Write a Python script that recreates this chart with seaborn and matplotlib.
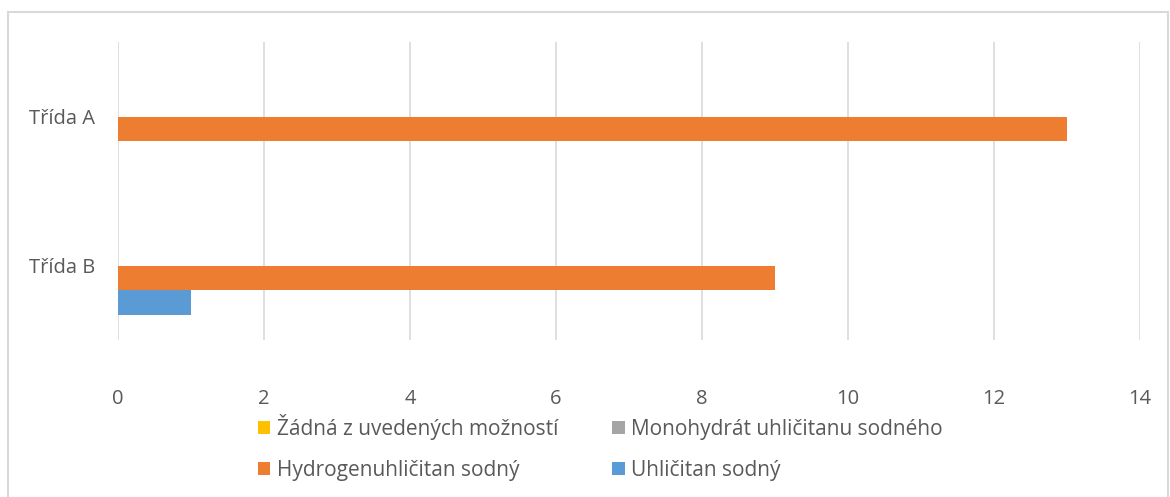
import pandas as pd
import matplotlib.pyplot as plt
import seaborn as sns
from matplotlib.patches import Patch, Rectangle

# data
classes = ["Třída A", "Třída B"]
series = ["Žádná z uvedených možností", "Monohydrát uhličitanu sodného",
          "Hydrogenuhličitan sodný", "Uhličitan sodný"]
zadna = [0, 0]
monohydrat = [0, 0]
hydrogen = [13, 9]
uhlicitan = [0, 1]
colors = ["#FFC000", "#A5A5A5", "#ED7D31", "#5B9BD5"]


def main():
    rows = []
    for name, vals in zip(series, [zadna, monohydrat, hydrogen, uhlicitan]):
        for c, v in zip(classes, vals):
            rows.append({"trida": c, "odpoved": name, "pocet": v})
    data = pd.DataFrame(rows)

    sns.set_style("white")
    plt.rcParams["font.family"] = ["Open Sans", "DejaVu Sans"]

    fig = plt.figure(figsize=(11.7, 4.97), dpi=100)
    ax = fig.add_axes([118 / 1170, 1 - 340 / 497, 1022 / 1170, 298 / 497])

    sns.barplot(data=data, x="pocet", y="trida", hue="odpoved", hue_order=series,
                palette=colors, orient="h", width=0.67, saturation=1,
                linewidth=0, ax=ax, legend=False)

    ax.set_xlim(0, 14)
    ax.set_xticks(range(0, 15, 2))
    ax.xaxis.grid(True, color="#d9d9d9", linewidth=1.2)
    ax.set_axisbelow(True)
    for s in ax.spines.values():
        s.set_visible(False)
    ax.set_xlabel("")
    ax.set_ylabel("")
    ax.tick_params(axis="x", length=0, pad=35, labelsize=14.5, labelcolor="#595959")
    ax.tick_params(axis="y", length=0, pad=16.5, labelsize=14.5, labelcolor="#595959")

    # legend, Excel style two rows
    handles = {n: Patch(facecolor=c, edgecolor="none") for n, c in zip(series, colors)}
    order = [series[0], series[2], series[1], series[3]]
    fig.legend([handles[n] for n in order], order, ncol=2, loc="center",
               bbox_to_anchor=(0.513, 0.1), frameon=False, fontsize=15,
               labelcolor="#595959", handlelength=0.6, handleheight=0.6,
               handletextpad=0.3, columnspacing=2.6, labelspacing=0.95)

    # outer chart frame
    fig.patches.append(Rectangle((8 / 1170, -0.01), 1160 / 1170, 1 - 12 / 497 + 0.01,
                                 transform=fig.transFigure, fill=False,
                                 edgecolor="#d9d9d9", linewidth=1.5))

    fig.savefig("out.png", dpi=100)


if __name__ == '__main__':
    main()
